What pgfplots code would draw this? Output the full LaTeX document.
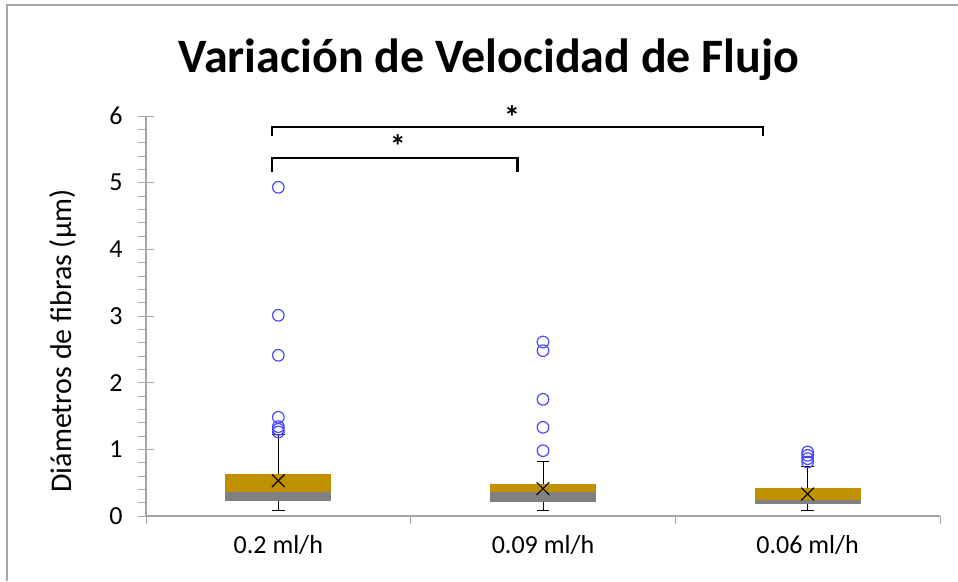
\documentclass[border=0pt]{standalone}
\usepackage{fontspec}
\setmainfont{Carlito}
\usepackage{pgfplots}
\pgfplotsset{compat=1.18}
\definecolor{boxgold}{RGB}{191,144,0}
\definecolor{boxgray}{RGB}{128,128,128}
\definecolor{outl}{RGB}{72,72,255}
\definecolor{axgray}{RGB}{166,166,166}
\begin{document}
\begin{tikzpicture}
\path[use as bounding box] (0pt,0pt) rectangle (958pt,581pt);
\draw[axgray, line width=1.5pt] (7pt,0pt) -- (7pt,576pt) -- (958pt,576pt);
\node[font=\fontsize{48}{50}\selectfont\bfseries, anchor=base] at (489pt,508pt) {Variación de Velocidad de Flujo};
\node[font=\fontsize{30}{32}\selectfont, rotate=90] at (63pt,240pt) {Diámetros de fibras (µm)};
\begin{axis}[at={(146pt,65pt)}, anchor=south west,
    scale only axis, width=794pt, height=400pt,
    xmin=0.5, xmax=3.5, ymin=0, ymax=6,
    axis x line*=bottom, axis y line*=left,
    axis line style={axgray, line width=1.2pt, -},
    xtick={1,2,3}, xticklabels={0.2 ml/h, 0.09 ml/h, 0.06 ml/h},
    minor xtick={0.5,1.5,2.5,3.5},
    ytick={0,1,2,3,4,5,6}, minor y tick num=4,
    yticklabel={\pgfmathprintnumber{\tick}},
    tick align=outside, major tick length=16pt, minor tick length=8pt,
    tick style={axgray, line width=1pt},
    major x tick style={draw=none},
    major y tick style={xshift=8pt},
    xticklabel style={font=\fontsize{26}{28}\selectfont},
    yticklabel style={font=\fontsize{26}{28}\selectfont, xshift=-4pt},
    /pgf/number format/assume math mode=true,
    clip=false]
% whiskers and caps
\addplot[black, line width=1pt, unbounded coords=jump] coordinates {
  (1,0.09) (1,1.22) (nan,nan) (0.976,0.09) (1.024,0.09) (nan,nan) (0.976,1.22) (1.024,1.22) (nan,nan)
  (2,0.09) (2,0.82) (nan,nan) (1.976,0.09) (2.024,0.09) (nan,nan) (1.976,0.82) (2.024,0.82) (nan,nan)
  (3,0.09) (3,0.74) (nan,nan) (2.976,0.09) (3.024,0.09) (nan,nan) (2.976,0.74) (3.024,0.74)};
% lower part of the boxes (Q1 to median)
\addplot[fill=boxgray, draw=none] coordinates {(0.8,0.23) (1.2,0.23) (1.2,0.36) (0.8,0.36)} --cycle;
\addplot[fill=boxgray, draw=none] coordinates {(1.8,0.21) (2.2,0.21) (2.2,0.36) (1.8,0.36)} --cycle;
\addplot[fill=boxgray, draw=none] coordinates {(2.8,0.18) (3.2,0.18) (3.2,0.24) (2.8,0.24)} --cycle;
% upper part (median to Q3)
\addplot[fill=boxgold, draw=none] coordinates {(0.8,0.36) (1.2,0.36) (1.2,0.63) (0.8,0.63)} --cycle;
\addplot[fill=boxgold, draw=none] coordinates {(1.8,0.36) (2.2,0.36) (2.2,0.48) (1.8,0.48)} --cycle;
\addplot[fill=boxgold, draw=none] coordinates {(2.8,0.24) (3.2,0.24) (3.2,0.42) (2.8,0.42)} --cycle;
% means
\addplot[only marks, mark=x, mark size=9pt, black, line width=1.1pt] coordinates {(1,0.53) (2,0.41) (3,0.33)};
% outliers
\addplot[only marks, mark=o, mark size=5.8pt, outl, line width=1.2pt] coordinates {
  (1,4.93) (1,3.01) (1,2.41) (1,1.48) (1,1.34) (1,1.30) (1,1.26)
  (2,2.61) (2,2.48) (2,1.75) (2,1.33) (2,0.98)
  (3,0.96) (3,0.91) (3,0.86) (3,0.81)};
% significance brackets
\addplot[black, line width=2.8pt] coordinates {(0.976,5.16) (0.976,5.37) (1.905,5.37) (1.905,5.16)};
\addplot[black, line width=2.8pt] coordinates {(0.976,5.70) (0.976,5.835) (2.831,5.835) (2.831,5.70)};
\node[font=\fontsize{32}{34}\selectfont\bfseries] at (axis cs:1.452,5.55) {*};
\node[font=\fontsize{32}{34}\selectfont\bfseries] at (axis cs:1.883,5.98) {*};
\end{axis}
\end{tikzpicture}
\end{document}
